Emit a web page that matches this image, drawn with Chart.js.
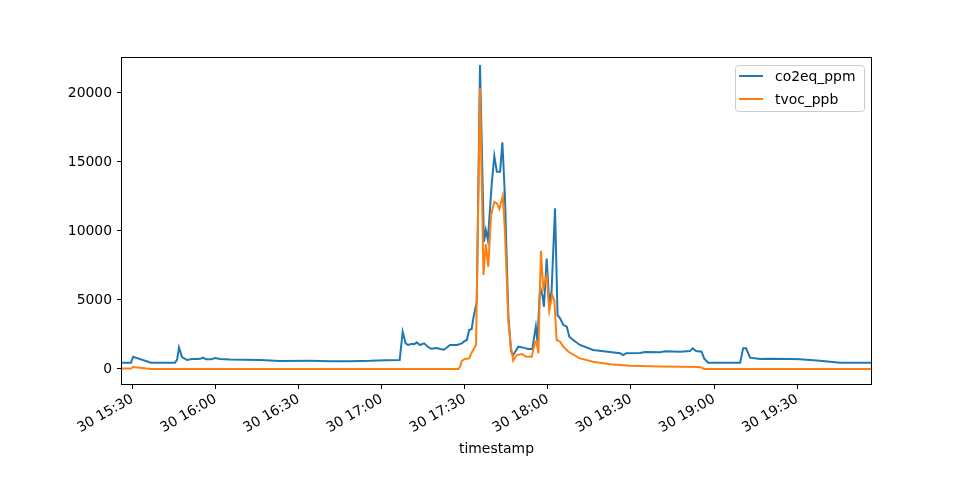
<!DOCTYPE html>
<html>
<head>
<meta charset="utf-8">
<script src="https://cdn.jsdelivr.net/npm/chart.js@4.4.0/dist/chart.umd.min.js"></script>
<style>
  html, body { margin: 0; padding: 0; background: #fff; }
  #wrap { width: 968px; height: 480px; }
</style>
</head>
<body>
<div id="wrap"><canvas id="chart" width="968" height="480"></canvas></div>
<script>
// sensor readings (day 30)
const co2Times = [
  '15:26:15', '15:29:30', '15:30:15', '15:36:45', '15:45:25', '15:46:10', '15:46:50', '15:47:55',
  '15:49:45', '15:51:35', '15:53:45', '15:54:50', '15:55:30', '15:56:35', '15:58:25', '15:59:50',
  '16:01:40', '16:05:15', '16:16:05', '16:23:20', '16:34:10', '16:41:20', '16:48:35', '16:55:50',
  '17:01:15', '17:06:30', '17:07:35', '17:08:40', '17:09:30', '17:11:00', '17:11:40', '17:12:40',
  '17:13:50', '17:15:20', '17:16:45', '17:17:50', '17:19:55', '17:21:05', '17:22:30', '17:24:40',
  '17:27:15', '17:28:55', '17:29:45', '17:30:45', '17:31:35', '17:32:30', '17:33:05', '17:34:20',
  '17:35:30', '17:36:55', '17:37:35', '17:38:20', '17:39:45', '17:40:40', '17:41:35', '17:42:45',
  '17:43:35', '17:44:30', '17:45:45', '17:46:45', '17:47:25', '17:49:20', '17:51:10', '17:52:55',
  '17:54:25', '17:55:05', '17:55:40', '17:56:15', '17:57:10', '17:58:05', '17:58:35', '17:59:35',
  '18:00:30', '18:01:20', '18:02:35', '18:03:30', '18:04:25', '18:05:35', '18:06:50', '18:07:45',
  '18:09:10', '18:11:35', '18:16:20', '18:22:25', '18:26:05', '18:27:15', '18:28:15', '18:33:15',
  '18:35:05', '18:40:30', '18:42:20', '18:47:45', '18:51:20', '18:52:15', '18:53:30', '18:55:30',
  '18:56:25', '18:57:50', '19:09:25', '19:10:30', '19:11:35', '19:13:00', '19:16:35', '19:20:15',
  '19:27:25', '19:31:05', '19:38:15', '19:45:30', '19:56:40'
];
const co2Values = [
  450, 450, 890, 450, 450, 700, 1570, 870,
  650, 720, 720, 760, 820, 700, 700, 800,
  720, 690, 650, 580, 590, 570, 560, 590,
  640, 650, 2700, 1860, 1740, 1830, 1790, 1930,
  1740, 1860, 1590, 1470, 1520, 1450, 1400, 1740,
  1740, 1860, 2000, 2100, 2830, 2900, 3670, 4880,
  22030, 9200, 10070, 9350, 13450, 15430, 14300, 14300,
  16430, 12500, 3790, 1250, 1000, 1620, 1550, 1450,
  1450, 2340, 3070, 1980, 5960, 5290, 4510, 8000,
  4760, 5600, 11640, 3910, 3670, 3190, 3070, 2340,
  2100, 1740, 1380, 1230, 1140, 1010, 1140, 1160,
  1230, 1210, 1280, 1250, 1300, 1500, 1300, 1250,
  770, 460, 460, 1500, 1500, 820, 720, 750,
  720, 700, 600, 460, 460
];
const tvocTimes = [
  '15:26:15', '15:29:30', '15:30:15', '15:36:45', '17:27:40', '17:28:20', '17:28:55', '17:30:05',
  '17:31:35', '17:32:30', '17:34:05', '17:35:30', '17:36:45', '17:37:35', '17:38:30', '17:39:30',
  '17:40:40', '17:41:35', '17:42:30', '17:43:45', '17:44:30', '17:45:45', '17:46:35', '17:47:30',
  '17:48:45', '17:50:35', '17:52:10', '17:54:10', '17:55:25', '17:56:00', '17:56:35', '17:57:30',
  '17:58:20', '17:59:35', '18:00:30', '18:01:35', '18:02:20', '18:03:10', '18:04:25', '18:05:35',
  '18:07:25', '18:11:35', '18:16:20', '18:22:25', '18:29:40', '18:40:30', '18:54:25', '18:55:30',
  '18:56:25', '19:56:40'
];
const tvocValues = [
  30, 30, 145, 0, 0, 170, 580, 725,
  770, 1180, 1740, 20340, 6810, 9060, 7410, 11160,
  12120, 12000, 11590, 12560, 9950, 3430, 1740, 600,
  1010, 1090, 890, 890, 1980, 1860, 1140, 8570,
  5850, 6740, 4230, 5360, 5000, 2100, 1980, 1620,
  1250, 770, 530, 340, 240, 190, 145, 100,
  0, 0
];
const xTickTimes = ['15:30', '16:00', '16:30', '17:00', '17:30', '18:00', '18:30', '19:00', '19:30'];
const yTickValues = [0, 5000, 10000, 15000, 20000];
const tickDay = '30';

function toMinutes(t) {
  const [h, m, s] = t.split(':').map(Number);
  return h * 60 + m + (s || 0) / 60;
}

function series(times, values) {
  return times.map((t, i) => ({ x: toMinutes(t), y: values[i] }));
}

function fmtTime(v) {
  const h = Math.floor(v / 60);
  const m = Math.round(v - h * 60);
  return tickDay + ' ' + h + ':' + String(m).padStart(2, '0');
}

const FONT = { family: "'DejaVu Sans', sans-serif", size: 13.9 };

// matplotlib draws all four spines over the lines
const framePlugin = {
  id: 'frame',
  afterDatasetsDraw(chart) {
    const { ctx, chartArea: a } = chart;
    ctx.save();
    ctx.strokeStyle = '#000';
    ctx.lineWidth = 1;
    ctx.strokeRect(Math.round(a.left) - 0.5, Math.round(a.top) - 0.5,
      Math.round(a.right - a.left) + 1, Math.round(a.bottom - a.top) + 1);
    ctx.restore();
  }
};

// legend box in the upper right corner of the axes
const legendPlugin = {
  id: 'boxLegend',
  afterDraw(chart) {
    const { ctx, chartArea: a } = chart;
    const sets = chart.data.datasets;
    const boxW = 129, boxH = 46;
    const x = a.right - 7 - boxW, y = a.top + 7;
    ctx.save();
    ctx.fillStyle = 'rgba(255,255,255,0.8)';
    ctx.strokeStyle = '#cccccc';
    ctx.lineWidth = 1;
    ctx.beginPath();
    ctx.roundRect(x + 0.5, y + 0.5, boxW, boxH, 3);
    ctx.fill();
    ctx.stroke();
    ctx.font = `${FONT.size}px ${FONT.family}`;
    ctx.textBaseline = 'middle';
    ctx.fillStyle = '#000';
    sets.forEach((ds, i) => {
      const ly = y + 11 + i * 23;
      ctx.strokeStyle = ds.borderColor;
      ctx.lineWidth = 2;
      ctx.beginPath();
      ctx.moveTo(x + 4, ly);
      ctx.lineTo(x + 28, ly);
      ctx.stroke();
      ctx.fillText(ds.label, x + 40, ly + 1);
    });
    ctx.restore();
  }
};

new Chart(document.getElementById('chart'), {
  type: 'line',
  data: {
    datasets: [
      {
        label: 'co2eq_ppm',
        data: series(co2Times, co2Values),
        borderColor: '#1f77b4',
        borderWidth: 2,
        pointRadius: 0,
        tension: 0,
        order: 1
      },
      {
        label: 'tvoc_ppb',
        data: series(tvocTimes, tvocValues),
        borderColor: '#ff7f0e',
        borderWidth: 2,
        pointRadius: 0,
        tension: 0,
        order: 0
      }
    ]
  },
  options: {
    responsive: false,
    animation: false,
    devicePixelRatio: 1,
    layout: { padding: { top: 58, right: 97, left: 0, bottom: 0 } },
    plugins: {
      legend: { display: false },
      tooltip: { enabled: false }
    },
    scales: {
      x: {
        type: 'linear',
        min: toMinutes(co2Times[0]),
        max: toMinutes(co2Times[co2Times.length - 1]),
        afterBuildTicks: (scale) => {
          scale.ticks = xTickTimes.map(t => ({ value: toMinutes(t) }));
        },
        afterFit: (scale) => { scale.height = 96; },
        grid: { display: true, drawOnChartArea: false, drawTicks: true, tickLength: 5, color: '#000' },
        border: { display: false },
        ticks: {
          autoSkip: false,
          minRotation: 30,
          maxRotation: 30,
          padding: 2,
          color: '#000',
          font: FONT,
          callback: (v) => fmtTime(v)
        },
        title: {
          display: true,
          text: 'timestamp',
          color: '#000',
          font: FONT,
          padding: { top: 0, bottom: 22 }
        }
      },
      y: {
        min: -1087,
        max: 22536,
        afterBuildTicks: (scale) => {
          scale.ticks = yTickValues.map(v => ({ value: v }));
        },
        afterFit: (scale) => { scale.width = 122; },
        grid: { display: true, drawOnChartArea: false, drawTicks: true, tickLength: 5, color: '#000' },
        border: { display: false },
        ticks: {
          padding: 5,
          color: '#000',
          font: FONT,
          callback: (v) => String(v)
        }
      }
    }
  },
  plugins: [framePlugin, legendPlugin]
});
</script>
</body>
</html>
